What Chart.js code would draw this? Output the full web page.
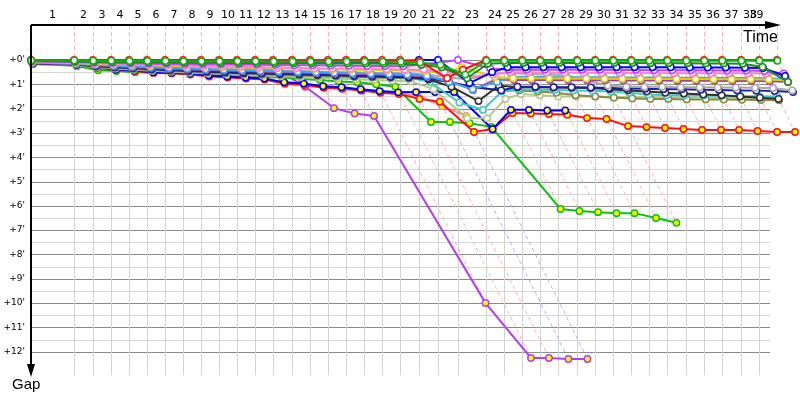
<!DOCTYPE html>
<html>
<head>
<meta charset="utf-8">
<title>Gap chart</title>
<script src="https://cdn.jsdelivr.net/npm/chart.js@4.4.1/dist/chart.umd.min.js"></script>
<style>
  html, body { margin: 0; padding: 0; background: #fff; }
  #gapChart { display: block; }
</style>
</head>
<body>
<canvas id="gapChart" width="800" height="400"></canvas>
<script>
// leader's lap completion times (minutes), lap 0 .. lap 39
const lapEnds = [0.00, 3.54, 5.10, 6.58, 8.07, 9.55, 11.03, 12.51, 13.99, 15.47,
    16.95, 18.44, 19.92, 21.48, 22.96, 24.44, 25.93, 27.41, 28.89, 30.37,
    31.93, 33.50, 35.14, 37.45, 38.93, 40.41, 41.89, 43.37, 44.94, 46.42,
    47.90, 49.38, 50.86, 52.35, 53.91, 55.39, 56.87, 58.44, 59.92, 61.40];

// who led each lap (lap 0 .. 39)
const lapLeader = ['red', 'red', 'red', 'red', 'red', 'red', 'red', 'red', 'red', 'red',
    'red', 'red', 'red', 'red', 'red', 'red', 'red', 'red', 'red', 'red',
    'blue', 'blue', 'violet', 'red', 'red', 'red', 'red', 'red', 'red', 'red',
    'red', 'red', 'red', 'red', 'red', 'red', 'red', 'red', 'red', 'red'];

const xTickLabels = ['1', '2', '3', '4', '5', '6', '7', '8', '9', '10', '11', '12', '13',
    '14', '15', '16', '17', '18', '19', '20', '21', '22', '23', '24', '25', '26',
    '27', '28', '29', '30', '31', '32', '33', '34', '35', '36', '37', '38', '39'];

const gapTicks = [0, 1, 2, 3, 4, 5, 6, 7, 8, 9, 10, 11, 12];

// gap to leader (minutes) per lap, lap 0 .. 39
const red = [0, 0, 0, 0, 0, 0, 0, 0, 0, 0, 0, 0, 0, 0, 0, 0, 0, 0, 0, 0,
    0.05, 0.75, 0.4, 0, 0, 0, 0, 0, 0, 0, 0, 0, 0, 0, 0, 0, 0, 0, 0, 0];
const green = [0.02, 0.02, 0.03, 0.03, 0.04, 0.04, 0.04, 0.05, 0.05, 0.05,
    0.05, 0.05, 0.06, 0.06, 0.06, 0.06, 0.06, 0.06, 0.07, 0.07,
    0.1, 0.2, 0.6, 0.03, 0.03, 0.03, 0.03, 0.03, 0.03, 0.03,
    0.03, 0.03, 0.03, 0.03, 0.03, 0.03, 0.03, 0.03, 0.03, 0.03];
const darkGreen = [0.04, 0.06, 0.07, 0.08, 0.09, 0.1, 0.1, 0.11, 0.11, 0.12,
    0.12, 0.12, 0.13, 0.13, 0.13, 0.14, 0.14, 0.14, 0.15, 0.15,
    0.2, 0.3, 0.75, 0.15, 0.12, 0.12, 0.12, 0.12, 0.12, 0.12,
    0.12, 0.12, 0.13, 0.13, 0.13, 0.14, 0.14, 0.15, 0.29, 0.9];
const blue = [0.01, 0.03, 0.04, 0.04, 0.05, 0.05, 0.05, 0.06, 0.06, 0.06,
    0.06, 0.07, 0.07, 0.07, 0.07, 0.08, 0.08, 0.08, 0.08, 0.05,
    0, 0, 0.95, 0.5, 0.3, 0.3, 0.3, 0.3, 0.3, 0.3,
    0.3, 0.3, 0.3, 0.3, 0.31, 0.31, 0.31, 0.32, 0.33, 0.66];
const violet = [0.05, 0.08, 0.1, 0.12, 0.13, 0.14, 0.15, 0.16, 0.17, 0.18,
    0.19, 0.2, 0.21, 0.22, 0.22, 0.23, 0.24, 0.25, 0.25, 0.26,
    0.2, 0.1, 0, 0.35, 0.4, 0.4, 0.4, 0.4, 0.4, 0.4,
    0.41, 0.41, 0.42, 0.42, 0.42, 0.43, 0.43, 0.43, 0.45, 0.55];
const pink = [0.06, 0.1, 0.13, 0.15, 0.17, 0.19, 0.21, 0.23, 0.25, 0.27,
    0.28, 0.3, 0.31, 0.33, 0.34, 0.35, 0.36, 0.37, 0.38, 0.39,
    0.4, 0.5, 0.7, 0.6, 0.5, 0.5, 0.52, 0.52, 0.52, 0.53,
    0.53, 0.53, 0.54, 0.54, 0.54, 0.55, 0.55, 0.55, 0.56, 0.6];
const yellow = [0.08, 0.12, 0.16, 0.18, 0.2, 0.22, 0.24, 0.26, 0.28, 0.3,
    0.31, 0.33, 0.34, 0.36, 0.37, 0.38, 0.4, 0.41, 0.42, 0.43,
    0.45, 0.55, 0.3, 0.7, 0.75, 0.75, 0.76, 0.76, 0.76, 0.77,
    0.77, 0.77, 0.78, 0.78, 0.78, 0.79, 0.79, 0.79, 0.8, 0.82];
const gray = [0.1, 0.14, 0.18, 0.22, 0.25, 0.28, 0.3, 0.33, 0.35, 0.37,
    0.39, 0.41, 0.43, 0.45, 0.47, 0.49, 0.5, 0.52, 0.53, 0.55,
    0.6, 0.7, 0.8, 0.55, 0.55, 0.58, 0.6, 0.62, 0.85, 1.05,
    1.1, 1.1, 1.1, 1.12, 1.12, 1.13, 1.13, 1.14, 1.15, 1.25];
const lightBlue = [0.1, 0.15, 0.2, 0.24, 0.27, 0.3, 0.33, 0.35, 0.38, 0.4,
    0.42, 0.44, 0.46, 0.48, 0.5, 0.52, 0.54, 0.56, 0.58, 0.6,
    0.65, 0.9, 1.2, 0.9, 0.7, 0.7, 0.7, 0.71, 0.71, 0.71,
    0.72, 0.72, 0.72, 0.73, 0.73, 0.73, 0.74, 0.74, 0.75, 0.78];
const purple = [0.12, 0.17, 0.22, 0.26, 0.3, 0.33, 0.36, 0.39, 0.41, 0.43,
    0.45, 0.47, 0.49, 0.51, 0.53, 0.55, 0.57, 0.59, 0.6, 0.62,
    0.68, 0.85, 1.23, 0.8, 0.82, 0.82, 0.82, 0.83, 0.83, 0.83,
    0.84, 0.84, 0.84, 0.85, 0.85, 0.85, 0.86, 0.86, 0.87, 0.9];
const navy = [0.12, 0.18, 0.24, 0.28, 0.32, 0.36, 0.4, 0.43, 0.46, 0.49,
    0.52, 0.54, 0.56, 0.58, 0.6, 0.62, 0.64, 0.66, 0.68, 0.7,
    0.75, 0.9, 1.1, 1.25, 1.1, 1.1, 1.12, 1.12, 1.13, 1.15,
    1.17, 1.18, 1.2, 1.2, 1.22, 1.23, 1.25, 1.26, 1.28, 1.32];
const black = [0.14, 0.2, 0.26, 0.3, 0.34, 0.38, 0.42, 0.45, 0.48, 0.51,
    0.54, 0.56, 0.58, 0.6, 0.62, 0.64, 0.66, 0.68, 0.7, 0.72,
    0.8, 1.1, 1.69, 1.05, 1.12, 1.12, 1.13, 1.14, 1.15, 1.2,
    1.25, 1.3, 1.35, 1.38, 1.42, 1.45, 1.5, 1.55, 1.6, null];
const cyan = [0.15, 0.21, 0.27, 0.31, 0.35, 0.39, 0.43, 0.46, 0.49, 0.52,
    0.55, 0.57, 0.59, 0.61, 0.63, 0.65, 0.67, 0.69, 0.71, 0.73,
    0.9, 1.75, 2.05, 1.3, 1.2, 1.22, 1.23, 1.25, 1.27, 1.3,
    1.35, 1.42, 1.45, 1.45, 1.46, 1.47, 1.48, 1.49, 1.5, null];
const olive = [0.16, 0.22, 0.28, 0.33, 0.37, 0.41, 0.45, 0.48, 0.51, 0.54,
    0.57, 0.6, 0.62, 0.64, 0.66, 0.68, 0.7, 0.72, 0.74, 0.76,
    0.8, 0.9, 1.1, 1.25, 1.25, 1.3, 1.35, 1.45, 1.5, 1.55,
    1.58, 1.6, 1.6, 1.62, 1.62, 1.63, 1.64, 1.65, 1.66, null];
const lightOlive = [0.18, 0.24, 0.3, 0.35, 0.4, 0.44, 0.48, 0.52, 0.55, 0.58,
    0.61, 0.64, 0.67, 0.7, 0.73, 0.76, 0.79, 0.82, 0.85, 0.88,
    1.2, 2.4, 2.4, 1.6, 1.4, 1.45, 1.5, 1.5, 1.5, 1.52,
    1.52, 1.53, 1.53, 1.54, 1.54, 1.55, 1.55, 1.56, 1.56, null];
const redSlow = [0.1, 0.25, 0.33, 0.41, 0.45, 0.53, 0.55, 0.6, 0.68, 0.72,
    0.76, 0.8, 0.98, 1.03, 1.14, 1.18, 1.26, 1.35, 1.4, 1.6,
    1.72, 2.96, 2.84, 2.18, 2.2, 2.22, 2.25, 2.39, 2.43, 2.72,
    2.76, 2.8, 2.84, 2.88, 2.88, 2.88, 2.92, 2.96, 2.96, null];
const blueSlow = [0.1, 0.22, 0.3, 0.38, 0.43, 0.5, 0.52, 0.56, 0.63, 0.68,
    0.72, 0.76, 0.92, 0.97, 1.08, 1.12, 1.2, 1.28, 1.33, 1.32,
    1.32, 1.32, 2.85, 2.05, 2.05, 2.08, 2.08];
const greenSlow = [0.08, 0.25, 0.42, 0.45, 0.5, 0.52, 0.55, 0.57, 0.6, 0.62,
    0.65, 0.7, 0.72, 0.78, 0.82, 0.88, 0.92, 1.0, 1.1, 2.55,
    2.55, 2.6, 2.75, 6.13, 6.21, 6.26, 6.3, 6.3, 6.5, 6.7];
const purpleSlow = [0.05, 0.1, 0.12, 0.15, 0.18, 0.2, 0.22, 0.25, 0.28, 0.3,
    0.32, 0.35, 0.45, 1.1, 1.98, 2.2, 2.3, 10.0, 12.26, 12.26,
    12.3, 12.3];
const pinkSlow = [0.09, 0.2, 0.28, 0.36, 0.42, 0.48, 0.5, 0.55, 0.62, 0.66,
    0.7, 0.74, 0.95, 1.0, 1.12, 1.16, 1.24, 1.33, 1.38, 1.45,
    1.9, 2.3];

// line colour and marker fill for each car
const carStyles = [
    { name: 'green', gaps: green, color: '#10b010', fill: '#ffffff' },
    { name: 'red', gaps: red, color: '#ff1010', fill: '#ffffff' },
    { name: 'darkGreen', gaps: darkGreen, color: '#1e8a1e', fill: '#ffffff' },
    { name: 'blue', gaps: blue, color: '#0000ff', fill: '#ffffff' },
    { name: 'violet', gaps: violet, color: '#c040ff', fill: '#ffffff' },
    { name: 'pink', gaps: pink, color: '#ff80d0', fill: '#ffffff' },
    { name: 'yellow', gaps: yellow, color: '#e0d000', fill: '#ffffff' },
    { name: 'lightBlue', gaps: lightBlue, color: '#40a0ff', fill: '#ffffff' },
    { name: 'purple', gaps: purple, color: '#a040a0', fill: '#ffffff' },
    { name: 'gray', gaps: gray, color: '#a8a8a8', fill: '#ffffff' },
    { name: 'navy', gaps: navy, color: '#202098', fill: '#ffffff' },
    { name: 'black', gaps: black, color: '#303030', fill: '#ffffff' },
    { name: 'cyan', gaps: cyan, color: '#40c8c8', fill: '#ffffff' },
    { name: 'olive', gaps: olive, color: '#8a8a40', fill: '#ffffff' },
    { name: 'lightOlive', gaps: lightOlive, color: '#b0c888', fill: '#ffffff' },
    { name: 'blueSlow', gaps: blueSlow, color: '#0000ff', fill: '#ffff00' },
    { name: 'redSlow', gaps: redSlow, color: '#ff1010', fill: '#ffff00' },
    { name: 'pinkSlow', gaps: pinkSlow, color: '#ff8c8c', fill: '#ffff00' },
    { name: 'greenSlow', gaps: greenSlow, color: '#10c010', fill: '#ffff00' },
    { name: 'purpleSlow', gaps: purpleSlow, color: '#b040f0', fill: '#ffff00' }
];

const leaderDash = { red: '#ffb0b0', blue: '#b0b0ff', violet: '#dcaaff' };
const gridEnd = 60.82;   // where the gap grid stops (minutes on the time axis)

// a car crosses the line "gap" minutes after the leader
function toPoints(gaps) {
    const pts = [];
    gaps.forEach((g, lap) => {
        if (g !== null && g !== undefined) pts.push({ x: lapEnds[lap] + g, y: g });
    });
    return pts;
}

function maxGapAtLap(lap) {
    let m = 0;
    carStyles.forEach(c => {
        const g = c.gaps[lap];
        if (g !== null && g !== undefined && g > m) m = g;
    });
    return m;
}

const lapLinesPlugin = {
    id: 'lapLines',
    beforeDatasetsDraw(chart) {
        const { ctx, chartArea: ca, scales: { x, y } } = chart;
        const y0 = y.getPixelForValue(0);
        const xEnd = x.getPixelForValue(gridEnd);
        ctx.save();
        ctx.lineWidth = 1;
        // gap grid: whole minutes dark, half minutes light
        gapTicks.forEach((v, i) => {
            const py = Math.round(y.getPixelForValue(v)) + 0.5;
            ctx.strokeStyle = '#8a8a8a';
            ctx.beginPath();
            ctx.moveTo(ca.left, py);
            ctx.lineTo(xEnd, py);
            ctx.stroke();
            if (i < gapTicks.length - 1) {
                const ph = Math.round(y.getPixelForValue((v + gapTicks[i + 1]) / 2)) + 0.5;
                ctx.strokeStyle = '#d6d6d6';
                ctx.beginPath();
                ctx.moveTo(ca.left, ph);
                ctx.lineTo(xEnd, ph);
                ctx.stroke();
            }
        });
        // lap grid
        ctx.strokeStyle = '#d2d2d2';
        for (let n = 1; n < lapEnds.length - 1; n++) {
            const px = Math.round(x.getPixelForValue(lapEnds[n])) + 0.5;
            ctx.beginPath();
            ctx.moveTo(px, y0);
            ctx.lineTo(px, ca.bottom);
            ctx.stroke();
        }
        // leader's lap line, then the same lap for the cars behind
        ctx.setLineDash([4, 3]);
        for (let n = 1; n < lapEnds.length; n++) {
            const px = Math.round(x.getPixelForValue(lapEnds[n])) + 0.5;
            const g = maxGapAtLap(n);
            ctx.strokeStyle = leaderDash[lapLeader[n]];
            ctx.beginPath();
            ctx.moveTo(px, ca.top);
            ctx.lineTo(px, y0);
            ctx.lineTo(x.getPixelForValue(lapEnds[n] + g), y.getPixelForValue(g));
            ctx.stroke();
        }
        ctx.restore();
    },
    afterDraw(chart) {
        const { ctx, chartArea: ca, scales: { x } } = chart;
        const xEnd = x.getPixelForValue(gridEnd);
        ctx.save();
        ctx.strokeStyle = '#000';
        ctx.fillStyle = '#000';
        ctx.lineWidth = 2;
        // time axis (top)
        ctx.beginPath();
        ctx.moveTo(ca.left, ca.top);
        ctx.lineTo(xEnd + 2, ca.top);
        ctx.stroke();
        ctx.beginPath();
        ctx.moveTo(xEnd - 5, ca.top - 4);
        ctx.lineTo(xEnd + 11, ca.top);
        ctx.lineTo(xEnd - 5, ca.top + 4);
        ctx.closePath();
        ctx.fill();
        // gap axis (left)
        ctx.beginPath();
        ctx.moveTo(ca.left, ca.top);
        ctx.lineTo(ca.left, ca.bottom - 8);
        ctx.stroke();
        ctx.beginPath();
        ctx.moveTo(ca.left - 4, ca.bottom - 11);
        ctx.lineTo(ca.left, ca.bottom + 2);
        ctx.lineTo(ca.left + 4, ca.bottom - 11);
        ctx.closePath();
        ctx.fill();
        // axis names
        ctx.font = '16px "Liberation Sans", sans-serif';
        ctx.textAlign = 'left';
        ctx.textBaseline = 'alphabetic';
        ctx.fillText('Time', xEnd - 27, ca.top + 17);
        ctx.font = '15px "Liberation Sans", sans-serif';
        ctx.fillText('Gap', ca.left - 19, ca.bottom + 14);
        ctx.restore();
    }
};

// tick label sits in the middle of each lap, the last one is kept left of the arrow
const xTickPos = xTickLabels.map((lab, i) => {
    const mid = (lapEnds[i] + lapEnds[i + 1]) / 2;
    return Math.min(mid, lapEnds[lapEnds.length - 2] - 0.2);
});

const datasets = carStyles.map(c => ({
    label: c.name,
    data: toPoints(c.gaps),
    showLine: true,
    borderColor: c.color,
    backgroundColor: c.fill,
    borderWidth: 2,
    pointRadius: 3.2,
    pointBorderWidth: 1.5,
    pointBorderColor: c.color,
    pointBackgroundColor: c.fill,
    tension: 0,
    clip: false
}));

new Chart(document.getElementById('gapChart'), {
    type: 'scatter',
    data: { datasets: datasets },
    options: {
        responsive: false,
        animation: false,
        events: [],
        layout: { autoPadding: false, padding: { top: 0, right: 0, bottom: 25, left: 0 } },
        plugins: {
            legend: { display: false },
            tooltip: { enabled: false }
        },
        scales: {
            x: {
                type: 'linear',
                position: 'top',
                min: 0,
                max: 63.29,
                grid: { display: false, drawTicks: false },
                border: { display: false },
                afterBuildTicks: scale => {
                    scale.ticks = xTickPos.map(v => ({ value: v }));
                },
                afterFit: scale => { scale.height = 25; },
                ticks: {
                    autoSkip: false,
                    maxRotation: 0,
                    minRotation: 0,
                    padding: 3,
                    color: '#000',
                    font: { family: '"DejaVu Sans", sans-serif', size: 11 },
                    callback: (value, index) => xTickLabels[index]
                }
            },
            y: {
                type: 'linear',
                reverse: true,
                min: -1.44,
                max: 12.96,
                grid: { display: false, drawTicks: false },
                border: { display: false },
                afterBuildTicks: scale => {
                    scale.ticks = gapTicks.map(v => ({ value: v }));
                },
                afterFit: scale => { scale.width = 31; },
                ticks: {
                    autoSkip: false,
                    padding: 6,
                    color: '#000',
                    font: { family: '"DejaVu Sans", sans-serif', size: 9 },
                    callback: value => '+' + value + "'"
                }
            }
        }
    },
    plugins: [lapLinesPlugin]
});
</script>
</body>
</html>
